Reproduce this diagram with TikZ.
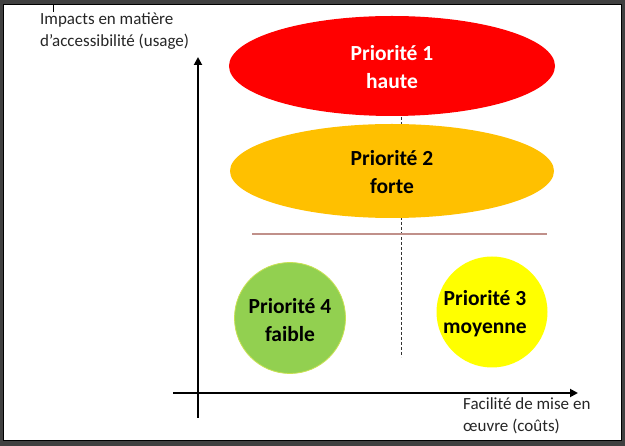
\documentclass[tikz,border=0pt]{standalone}
\usepackage{fontspec}
\setmainfont{Carlito}
\usetikzlibrary{shapes.geometric,arrows.meta}
\definecolor{frame}{HTML}{404040}
\definecolor{prio1}{HTML}{FF0000}
\definecolor{prio2}{HTML}{FFC000}
\definecolor{prio3}{HTML}{FFFF00}
\definecolor{prio4}{HTML}{92D050}
\definecolor{sepline}{HTML}{C0908A}
\definecolor{txt}{HTML}{262626}
\begin{document}
\begin{tikzpicture}[x=1pt,y=-1pt,
  prio/.style={inner sep=0pt, align=center, font=\fontsize{21.5}{28}\selectfont\bfseries},
  axislabel/.style={inner sep=0pt, align=left, text=txt, font=\fontsize{17}{22}\selectfont},
  axis/.style={line width=1.8pt, -{Triangle[length=8pt,width=8pt]}}
]
% frame
\fill[frame] (0,0) rectangle (625,446);
\fill[white, draw=black, line width=1pt] (3.5,4.5) rectangle (621.5,441);
\useasboundingbox (0,0) rectangle (625,446);
% small tick at top
\coordinate (tickA) at (53,4.5);
\coordinate (tickB) at (53,12);
\draw[line width=0.8pt] (tickA) -- (tickB);
% ellipse 1
\node[ellipse, fill=prio1, minimum width=326pt, minimum height=100pt, inner sep=0pt] (p1) at (392,66) {};
\node[prio, text=white] (t1) at (392,67) {Priorité 1\\haute};
% dashed line
\coordinate (dtop) at (401,117);
\coordinate (dbot) at (401,357);
\draw[dashed, line width=0.6pt, dash pattern=on 3pt off 2pt, black!80] (dtop) -- (dbot);
% ellipse 2
\node[ellipse, fill=prio2, minimum width=324pt, minimum height=94pt, inner sep=0pt] (p2) at (392,171) {};
\node[prio, text=black] (t2) at (392,172) {Priorité 2\\forte};
% separator line
\coordinate (sA) at (252,234);
\coordinate (sB) at (547,234);
\draw[sepline, line width=1.2pt] (sA) -- (sB);
% circles
\node[circle, fill=prio4, draw={rgb,255:red,200;green,225;blue,80}, line width=0.8pt, minimum size=111pt, inner sep=0pt] (p4) at (290,318) {};
\node[prio, text=black] (t4) at (290,320) {Priorité 4\\faible};
\node[circle, fill=prio3, minimum size=111pt, inner sep=0pt] (p3) at (492,312) {};
\node[prio, text=black] (t3) at (485,314) {Priorité 3\\moyenne};
% axes
\coordinate (yo) at (198,418);
\coordinate (yt) at (198,57);
\coordinate (xo) at (173,393);
\coordinate (xt) at (578,393);
\draw[axis] (yo) -- (yt);
\draw[axis] (xo) -- (xt);
% labels
\node[axislabel, anchor=north west] (ly) at (40,13) {Impacts en matière\\d’accessibilité (usage)};
\node[axislabel, anchor=north west] (lx) at (463,397) {Facilité de mise en\\œuvre (coûts)};
\end{tikzpicture}
\end{document}
